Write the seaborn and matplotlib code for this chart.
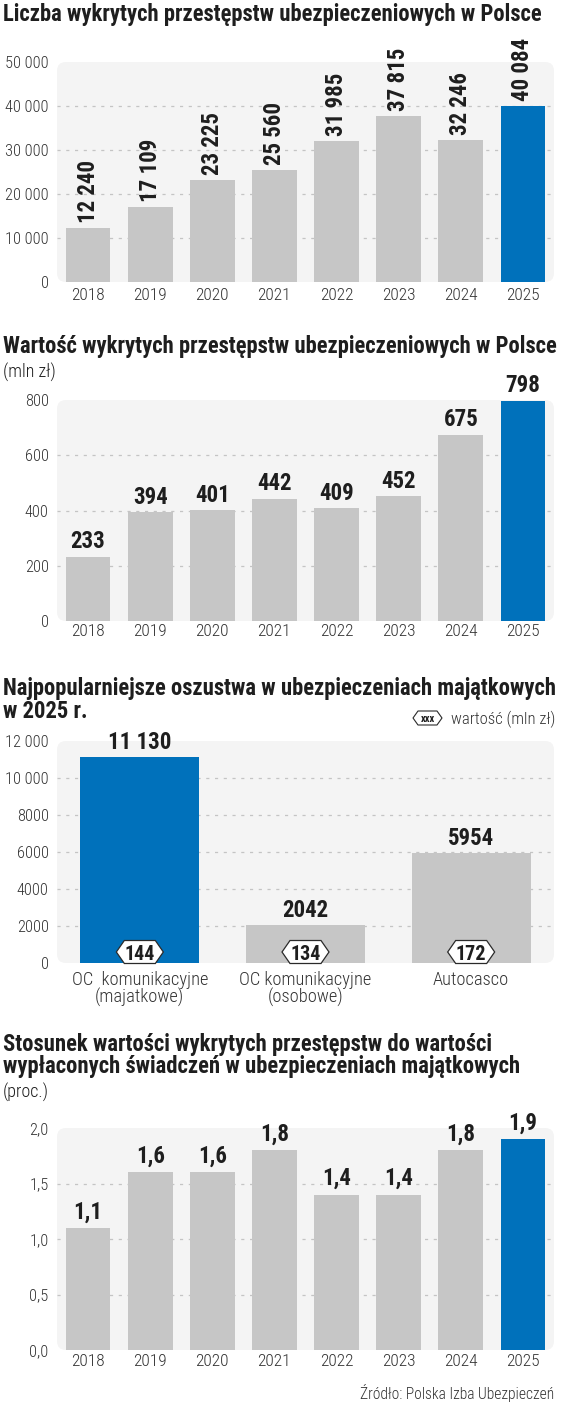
import os
import matplotlib
matplotlib.use("Agg")
import matplotlib.pyplot as plt
import matplotlib.transforms as mtransforms
import numpy as np
import pandas as pd
import seaborn as sns
from matplotlib import font_manager as fm
from matplotlib.font_manager import FontProperties
from matplotlib.patches import FancyBboxPatch
from matplotlib.path import Path

# ---------------- data ----------------
years = ["2018", "2019", "2020", "2021", "2022", "2023", "2024", "2025"]
count_values = [12240, 17109, 23225, 25560, 31985, 37815, 32246, 40084]
value_mln = [233, 394, 401, 442, 409, 452, 675, 798]
fraud_types = ["OC  komunikacyjne\n(majatkowe)", "OC komunikacyjne\n(osobowe)", "Autocasco"]
fraud_counts = [11130, 2042, 5954]
fraud_value_mln = [144, 134, 172]
ratio_pct = [1.1, 1.6, 1.6, 1.8, 1.4, 1.4, 1.8, 1.9]

count_ticks = [0, 10000, 20000, 30000, 40000, 50000]
count_ticklabels = ["0", "10 000", "20 000", "30 000", "40 000", "50 000"]
value_ticks = [0, 200, 400, 600, 800]
value_ticklabels = ["0", "200", "400", "600", "800"]
fraud_ticks = [0, 2000, 4000, 6000, 8000, 10000, 12000]
fraud_ticklabels = ["0", "2000", "4000", "6000", "8000", "10 000", "12 000"]
ratio_ticks = [0.0, 0.5, 1.0, 1.5, 2.0]
ratio_ticklabels = ["0,0", "0,5", "1,0", "1,5", "2,0"]

titles = {
    "t1": "Liczba wykrytych przestępstw ubezpieczeniowych w Polsce",
    "t2": "Wartość wykrytych przestępstw ubezpieczeniowych w Polsce",
    "t2s": "(mln zł)",
    "t3a": "Najpopularniejsze oszustwa w ubezpieczeniach majątkowych",
    "t3b": "w 2025 r.",
    "leg": "wartość (mln zł)",
    "t4a": "Stosunek wartości wykrytych przestępstw do wartości",
    "t4b": "wypłaconych świadczeń w ubezpieczeniach majątkowych",
    "t4s": "(proc.)",
    "src": "Źródło: Polska Izba Ubezpieczeń",
}

# ---------------- style ----------------
GRAY = "#c6c6c6"
BLUE = "#0071bb"
PANEL = "#f4f4f4"
GRID = "#c4c4c4"
DARK = "#1e1e1e"
TICK = "#333333"

sns.set_style("white")
plt.rcParams["font.family"] = ["DejaVu Sans"]

W, H = 564, 1403


def _wnum(w):
    if isinstance(w, (int, float)):
        return int(w)
    m = {"ultralight": 200, "light": 300, "normal": 400, "regular": 400, "book": 400,
         "roman": 400, "medium": 500, "semibold": 600, "demibold": 600, "demi": 600,
         "bold": 700, "heavy": 800, "extra bold": 800, "black": 900}
    return m.get(str(w).lower(), 400)


COND_PREFS = ["robotocondensed", "notosans-condensed", "opensans-condensed",
              "dejavusanscondensed", "liberationsansnarrow", "notosans-semicondensed",
              "opensans-semicondensed"]
FALL_PREFS = ["roboto-", "lato-", "notosans-", "opensans-", "dejavusans"]


def pick_font(want):
    prefs = COND_PREFS + FALL_PREFS
    best, best_score, best_rank = None, None, None
    for f in fm.fontManager.ttflist:
        base = os.path.basename(f.fname).lower().replace(" ", "").replace("_", "-")
        if "italic" in base or "oblique" in base or "mono" in base or f.style != "normal":
            continue
        for rank, p in enumerate(prefs):
            if base.startswith(p):
                d = abs(_wnum(f.weight) - want)
                score = rank * 1000 + d + (5000 if d > 150 else 0)
                if best_score is None or score < best_score:
                    best, best_score, best_rank = f.fname, score, rank
                break
    if best is None:
        return None, False
    return best, best_rank < len(COND_PREFS)


REG_F, COND = pick_font(400)
LIGHT_F, _ = pick_font(300)
BOLD_F, COND_B = pick_font(700)
S = 1.0 if COND else 0.85


def fp(bold=False, size=11, light=False):
    f = BOLD_F if bold else (LIGHT_F if light else REG_F)
    if f is None:
        return FontProperties(family="DejaVu Sans", weight="bold" if bold else "normal", size=size)
    return FontProperties(fname=f, size=size)


fig = plt.figure(figsize=(W / 100, H / 100), dpi=100)
fig.patch.set_facecolor("white")


def px(x, y):
    return x / W, 1 - y / H


def make_ax(top, bottom, left=57, right=554):
    return fig.add_axes([left / W, 1 - bottom / H, (right - left) / W, (bottom - top) / H])


def hex_box(w_px, h_px, slant_px, dy=0.0):
    def style(x0, y0, width, height, mutation_size):
        cx = x0 + width / 2.0
        cy = y0 + height / 2.0 + dy
        hw, hh = w_px / 2.0, h_px / 2.0
        verts = [(cx - hw, cy), (cx - hw + slant_px, cy + hh), (cx + hw - slant_px, cy + hh),
                 (cx + hw, cy), (cx + hw - slant_px, cy - hh), (cx - hw + slant_px, cy - hh),
                 (cx - hw, cy)]
        return Path(verts, closed=True)
    return style


def bar_panel(ax, cats, vals, colors, ylim, ticks, ticklabels, xpad, xsize=12.5):
    df = pd.DataFrame({"cat": cats, "val": vals})
    sns.barplot(data=df, x="cat", y="val", hue="cat", palette=dict(zip(cats, colors)),
                legend=False, width=0.72, saturation=1, linewidth=0, ax=ax, zorder=2)
    n = len(cats)
    ax.set_xlim(-0.5, n - 0.5)
    ax.set_ylim(*ylim)
    ax.set_yticks(ticks, ticklabels)
    ax.set_xlabel("")
    ax.set_ylabel("")
    for s in ax.spines.values():
        s.set_visible(False)
    ax.patch.set_visible(False)
    ax.tick_params(axis="y", length=0, pad=6, colors=TICK)
    ax.tick_params(axis="x", length=0, pad=xpad, colors=TICK)
    for lab in ax.get_yticklabels():
        lab.set_fontproperties(fp(False, 11.8 * S, light=True))
    for lab in ax.get_xticklabels():
        lab.set_fontproperties(fp(False, xsize * S, light=True))
    # panel background
    bb = ax.get_position()
    wpx, hpx = bb.width * W, bb.height * H
    r = 9.0
    panel = FancyBboxPatch((0, 0), 1, 1, boxstyle=f"round,pad=0,rounding_size={r / wpx}",
                           mutation_aspect=wpx / hpx, transform=ax.transAxes,
                           facecolor=PANEL, edgecolor="none", zorder=0, clip_on=False)
    ax.add_patch(panel)
    for t in ticks[1:-1]:
        ax.axhline(t, color=GRID, lw=0.9, ls=(0, (2.5, 4.5)), zorder=1)


def colors_for(n, hi):
    return [BLUE if i == hi else GRAY for i in range(n)]


def fmt_int(v):
    s = f"{v:d}"
    return f"{v:,}".replace(",", " ") if v >= 10000 else s


VAL = 16.5

# ---------- chart 1 ----------
ax1 = make_ax(62, 282)
bar_panel(ax1, years, count_values, colors_for(len(years), len(years) - 1),
          (0, 50000), count_ticks, count_ticklabels, xpad=4)
tr1 = mtransforms.offset_copy(ax1.transData, fig=fig, x=0, y=5, units="dots")
for i, v in enumerate(count_values):
    ax1.text(i, v, fmt_int(v), rotation=90, ha="center", va="bottom", transform=tr1,
             fontproperties=fp(True, VAL * S), color=DARK, zorder=4)

# ---------- chart 2 ----------
ax2 = make_ax(400, 621)
bar_panel(ax2, years, value_mln, colors_for(len(years), len(years) - 1),
          (0, 800), value_ticks, value_ticklabels, xpad=2.5)
tr2 = mtransforms.offset_copy(ax2.transData, fig=fig, x=0, y=3.5, units="dots")
for i, v in enumerate(value_mln):
    ax2.text(i, v, fmt_int(v), ha="center", va="bottom", transform=tr2,
             fontproperties=fp(True, VAL * S), color=DARK, zorder=4)

# ---------- chart 3 ----------
ax3 = make_ax(741, 963)
bar_panel(ax3, fraud_types, fraud_counts, colors_for(len(fraud_types), 0),
          (0, 12000), fraud_ticks, fraud_ticklabels, xpad=6, xsize=13.2)
for lab in ax3.get_xticklabels():
    lab.set_linespacing(0.92)
tr3 = mtransforms.offset_copy(ax3.transData, fig=fig, x=0, y=3, units="dots")
for i, v in enumerate(fraud_counts):
    ax3.text(i, v, fmt_int(v), ha="center", va="bottom", transform=tr3,
             fontproperties=fp(True, VAL * S), color=DARK, zorder=4)
tr3b = mtransforms.offset_copy(ax3.transData, fig=fig, x=0, y=9, units="dots")
for i, v in enumerate(fraud_value_mln):
    ax3.text(i, 0, str(v), ha="center", va="center", transform=tr3b,
             fontproperties=fp(True, 14.5 * S), color=DARK, zorder=6,
             bbox=dict(boxstyle=hex_box(47, 23, 8, dy=2), facecolor="white",
                       edgecolor="#2a2a2a", linewidth=0.9))

# ---------- chart 4 ----------
ax4 = make_ax(1128, 1350)
bar_panel(ax4, years, ratio_pct, colors_for(len(years), len(years) - 1),
          (0, 2.0), ratio_ticks, ratio_ticklabels, xpad=3)
tr4 = mtransforms.offset_copy(ax4.transData, fig=fig, x=0, y=4.5, units="dots")
for i, v in enumerate(ratio_pct):
    ax4.text(i, v, f"{v:.1f}".replace(".", ","), ha="center", va="bottom", transform=tr4,
             fontproperties=fp(True, VAL * S), color=DARK, zorder=4)

# ---------- titles & texts ----------
renderer = fig.canvas.get_renderer()


def title(key, x, y, target_w=None, size=None):
    t = fig.text(*px(x, y), titles[key], ha="left", va="center",
                 fontproperties=fp(True, size or 14), color=DARK)
    if target_w is not None:
        w = t.get_window_extent(renderer).width
        t.set_fontsize(t.get_fontsize() * target_w / w)
    return t


t1 = title("t1", 3, 15, target_w=542)
ts = t1.get_fontsize()
title("t2", 3, 347, size=ts)
fig.text(*px(3, 372), titles["t2s"], ha="left", va="center",
         fontproperties=fp(False, 13 * S, light=True), color=DARK)
title("t3a", 3, 688, size=ts)
title("t3b", 3, 712, size=ts)
title("t4a", 3, 1045, size=ts)
title("t4b", 3, 1067, size=ts)
fig.text(*px(3, 1092), titles["t4s"], ha="left", va="center",
         fontproperties=fp(False, 13 * S, light=True), color=DARK)

# legend badge
fig.text(*px(427.5, 719), "xxx", ha="center", va="center",
         fontproperties=fp(True, 7.5 * S), color=DARK,
         bbox=dict(boxstyle=hex_box(29, 14, 5, dy=1), facecolor="white",
                   edgecolor="#2a2a2a", linewidth=0.8))
fig.text(*px(451, 719), titles["leg"], ha="left", va="center",
         fontproperties=fp(False, 12 * S, light=True), color=TICK)

fig.text(*px(554, 1393), titles["src"], ha="right", va="center",
         fontproperties=fp(False, 11.2 * S, light=True), color=TICK)

fig.savefig("out.png", dpi=100, facecolor="white")
